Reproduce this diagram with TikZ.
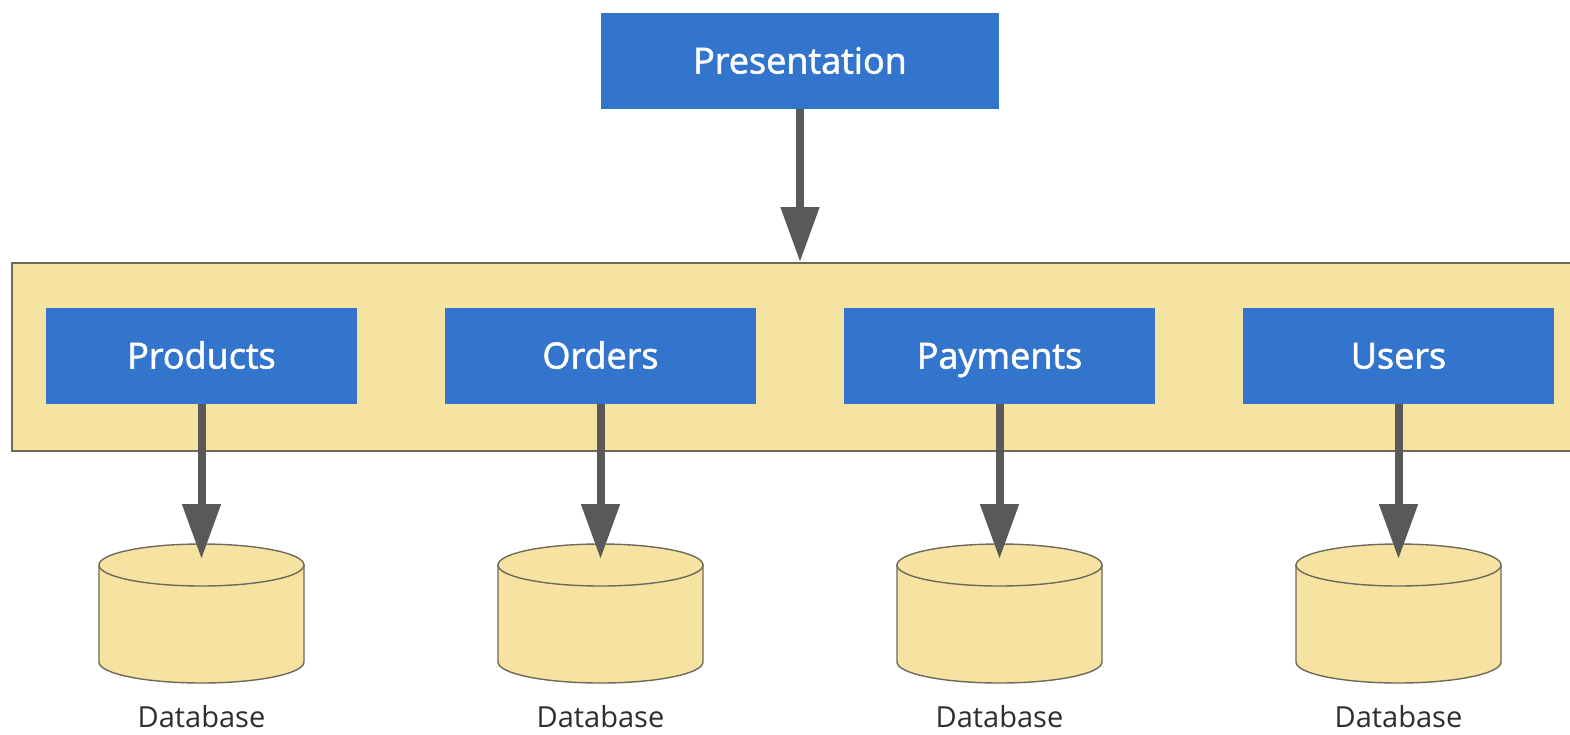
\documentclass[tikz,border=0pt]{standalone}
\usepackage{fontspec}
\setmainfont{Open Sans}
\newfontfamily\semibfont{Open Sans}[FakeBold=1.6]
\usetikzlibrary{arrows.meta}
\definecolor{svcblue}{RGB}{51,117,204}
\definecolor{paleyellow}{RGB}{247,227,161}
\definecolor{arrowgray}{RGB}{89,89,89}
\definecolor{edgegray}{RGB}{110,105,90}
\tikzset{
  svcbox/.style={fill=svcblue, draw=none, minimum width=311pt, minimum height=96pt, inner sep=0pt, text=white, text height=29pt, text depth=4pt, font=\semibfont\fontsize{36}{42}\selectfont},
  flowarrow/.style={draw=arrowgray, line width=8pt, -{Triangle[width=37pt,length=55pt]}, arrowgray},
  dbshape/.style={fill=paleyellow, draw=edgegray, line width=1.4pt},
  dblabel/.style={font=\fontsize{29}{34}\selectfont, text=black!82, inner sep=0pt, text height=21pt, text depth=6pt}
}
\begin{document}
\begin{tikzpicture}[x=1pt,y=-1pt]
\useasboundingbox (0,0) rectangle (1570,734);
\clip (0,0) rectangle (1570,734);
\fill[white] (0,0) rectangle (1570,734);
% container
\node[draw=edgegray, line width=1.5pt, fill=paleyellow, minimum width=1590pt, minimum height=188pt, inner sep=0pt, anchor=north west] (layer) at (11,262) {};
% presentation
\node[svcbox, minimum width=398pt] (pres) at (800,61) {Presentation};
\draw[flowarrow] (pres.south) -- (pres.south |- layer.north);
% services
\node[svcbox] (prod) at (201.5,356) {Products};
\node[svcbox] (ord) at (600.5,356) {Orders};
\node[svcbox] (pay) at (999.5,356) {Payments};
\node[svcbox] (usr) at (1398.5,356) {Users};
% databases
\foreach \name/\cx in {prod/201.5, ord/600.5, pay/999.5, usr/1398.5}{
  \filldraw[dbshape] (\cx-102.5,565) -- (\cx-102.5,662) arc[start angle=180,end angle=360,x radius=102.5pt,y radius=21pt] -- (\cx+102.5,565) -- cycle;
  \filldraw[dbshape] (\cx,565) ellipse[x radius=102.5pt, y radius=21pt];
  \coordinate (\name db) at (\cx,559);
  \node[dblabel] (\name lbl) at (\cx,720) {Database};
  \draw[flowarrow] (\name.south) -- (\name db);
}
\end{tikzpicture}
\end{document}
